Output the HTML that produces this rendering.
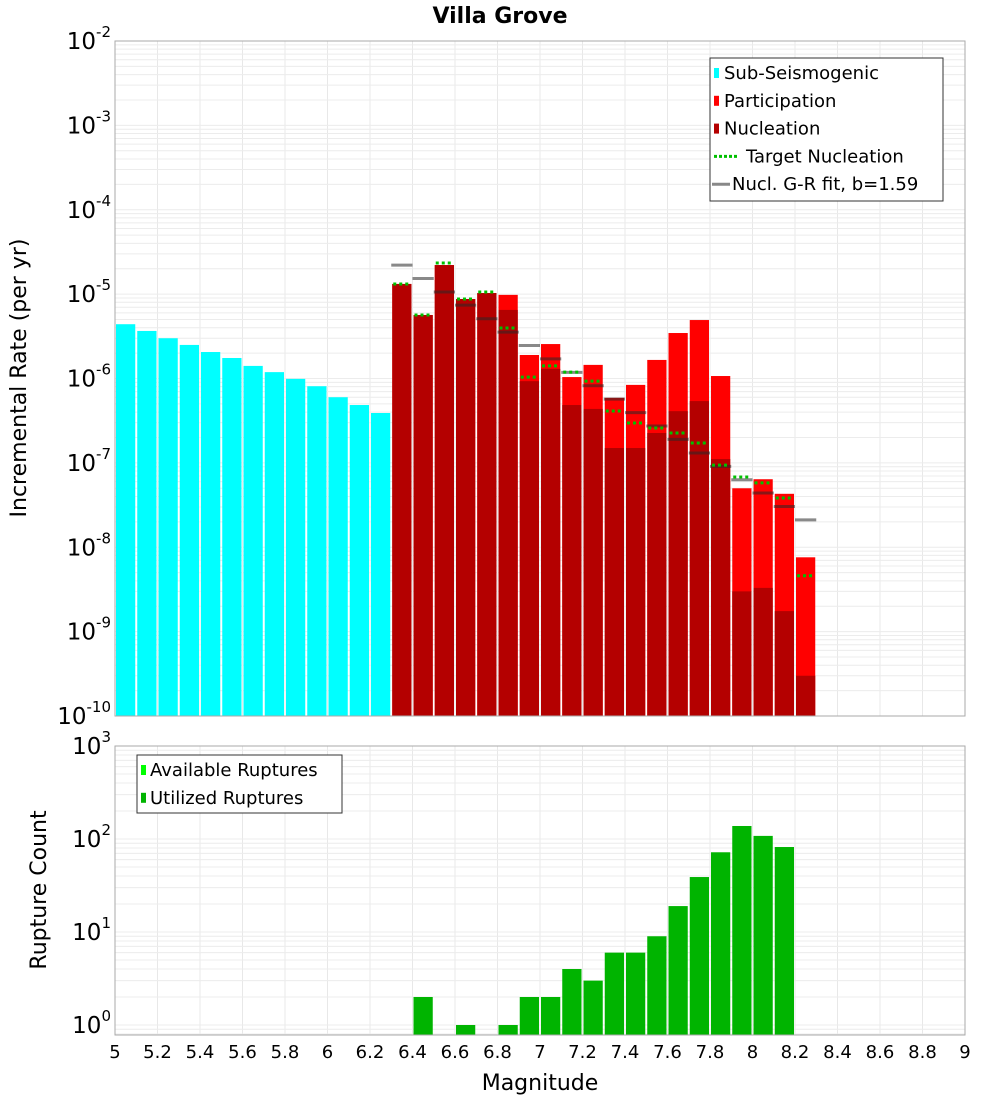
<!DOCTYPE html>
<html><head><meta charset="utf-8"><style>
body{margin:0;background:#fff;}
svg{display:block;font-family:"DejaVu Sans","Liberation Sans",sans-serif;}
</style></head><body>
<svg id="c" width="1000" height="1100" xmlns="http://www.w3.org/2000/svg">
<text x="500" y="23" text-anchor="middle" font-size="22" font-weight="bold">Villa Grove</text>
<text transform="translate(26,378) rotate(-90)" text-anchor="middle" font-size="22">Incremental Rate (per yr)</text>
<text transform="translate(46,890) rotate(-90)" text-anchor="middle" font-size="22">Rupture Count</text>
<text x="540" y="1090" text-anchor="middle" font-size="22">Magnitude</text>
<g id="grid"></g><g id="marks"></g><g id="axes"></g>
</svg>
<script>
const subMags=[5.05,5.15,5.25,5.35,5.45,5.55,5.65,5.75,5.85,5.95,6.05,6.15,6.25];
const subRates=[4.4e-6,3.66e-6,3.0e-6,2.5e-6,2.06e-6,1.75e-6,1.41e-6,1.19e-6,9.9e-7,8.1e-7,6.0e-7,4.85e-7,3.9e-7];
const supMags=[6.35,6.45,6.55,6.65,6.75,6.85,6.95,7.05,7.15,7.25,7.35,7.45,7.55,7.65,7.75,7.85,7.95,8.05,8.15,8.25];
const partRates=[1.32e-5,5.66e-6,2.21e-5,8.75e-6,1.03e-5,9.8e-6,1.9e-6,2.56e-6,1.04e-6,1.45e-6,5.9e-7,8.4e-7,1.66e-6,3.46e-6,4.93e-6,1.07e-6,5.0e-8,6.4e-8,4.3e-8,7.6e-9];
const nuclRates=[1.32e-5,5.66e-6,2.21e-5,8.75e-6,1.03e-5,6.5e-6,9.3e-7,1.3e-6,4.85e-7,4.36e-7,1.5e-7,1.5e-7,2.26e-7,4.1e-7,5.4e-7,1.11e-7,3.0e-9,3.3e-9,1.75e-9,3.0e-10];
const targetRates=[1.32e-5,5.66e-6,2.34e-5,8.75e-6,1.06e-5,3.97e-6,1.04e-6,1.41e-6,1.19e-6,9.3e-7,4.12e-7,2.97e-7,2.59e-7,2.26e-7,1.72e-7,9.4e-8,6.8e-8,5.8e-8,3.84e-8,4.6e-9];
const grRates=[2.21e-5,1.53e-5,1.06e-5,7.4e-6,5.1e-6,3.55e-6,2.46e-6,1.71e-6,1.18e-6,8.2e-7,5.7e-7,3.94e-7,2.74e-7,1.9e-7,1.31e-7,9.1e-8,6.3e-8,4.4e-8,3.04e-8,2.11e-8];
const countMags=[6.45,6.65,6.85,6.95,7.05,7.15,7.25,7.35,7.45,7.55,7.65,7.75,7.85,7.95,8.05,8.15];
const counts=[2,1,1,2,2,4,3,6,6,9,19,39,72,138,108,82];
const xTicks=["5","5.2","5.4","5.6","5.8","6","6.2","6.4","6.6","6.8","7","7.2","7.4","7.6","7.8","8","8.2","8.4","8.6","8.8","9"];
const topExps=[-10,-9,-8,-7,-6,-5,-4,-3,-2];
const botExps=[0,1,2,3];

const NS="http://www.w3.org/2000/svg";
const X0=115,X1=965,T0=41,T1=716,B0=746,B1=1035;
const xs=m=>X0+(m-5)*(X1-X0)/4;
const yT=v=>T1-(Math.log10(v)+10)*(T1-T0)/8;
const yB=v=>1025-Math.log10(v)*93;
const bw=(X1-X0)/40;
function mk(tag,attrs,parent){const e=document.createElementNS(NS,tag);for(const k in attrs)e.setAttribute(k,attrs[k]);parent.appendChild(e);return e;}
const grid=document.getElementById('grid'),marks=document.getElementById('marks'),axes=document.getElementById('axes');

// plot backgrounds and grids
[[T0,T1],[B0,B1]].forEach(([a,b],pi)=>{
  for(let i=0;i<xTicks.length;i++){const x=xs(5+i*0.2);const l=mk('line',{x1:x,x2:x,y1:a,y2:b,stroke:'#e8e8e8','stroke-width':1},grid);
  
  }
});
for(let e=-10;e<-2;e++)for(let k=1;k<10;k++){const y=yT(k*Math.pow(10,e));const l=mk('line',{x1:X0,x2:X1,y1:y,y2:y,stroke:'#ececec','stroke-width':1},grid);

}
for(let e=-1;e<3;e++)for(let k=1;k<10;k++){const v=k*Math.pow(10,e);const y=yB(v);if(y<B0||y>B1)continue;const l=mk('line',{x1:X0,x2:X1,y1:y,y2:y,stroke:'#ececec','stroke-width':1},grid);

}

// bars
subMags.forEach((m,i)=>{const y=yT(subRates[i]);const r=mk('rect',{x:xs(m)-bw/2+1,y:y,width:bw-2,height:T1-y,fill:'#00ffff'},marks);

});
supMags.forEach((m,i)=>{let y=yT(partRates[i]);let r=mk('rect',{x:xs(m)-bw/2+1,y:y,width:bw-2,height:T1-y,fill:'#ff0000'},marks);


y=yT(nuclRates[i]);r=mk('rect',{x:xs(m)-bw/2+1,y:y,width:bw-2,height:T1-y,fill:'#b40000'},marks);

});
supMags.forEach((m,i)=>{const y=yT(grRates[i]);const l=mk('line',{x1:xs(m)-bw/2,x2:xs(m)+bw/2,y1:y,y2:y,stroke:'rgba(40,40,40,0.55)','stroke-width':3},marks);


const y2=yT(targetRates[i]);const t=mk('line',{x1:xs(m)-bw/2+2,x2:xs(m)+bw/2-2,y1:y2,y2:y2,stroke:'#00c000','stroke-width':3,'stroke-dasharray':'3,3'},marks);

});
countMags.forEach((m,i)=>{const y=yB(counts[i]);const r=mk('rect',{x:xs(m)-bw/2+1,y:y,width:bw-2,height:B1-y,fill:'#00b400'},marks);

});

// frames
[[T0,T1,'top-plot-frame'],[B0,B1,'bottom-plot-frame']].forEach(([a,b,n])=>{const r=mk('rect',{x:X0,y:a,width:X1-X0,height:b-a,fill:'none',stroke:'#aaa','stroke-width':1},axes);

});
xTicks.forEach((t,i)=>{const tx=mk('text',{x:xs(5+i*0.2),y:1058,'text-anchor':'middle','font-size':18},axes);tx.textContent=t;

});
function expLabel(y,e,name){const tx=mk('text',{x:X0-4,y:y+8,'text-anchor':'end','font-size':23},axes);


const a=document.createElementNS(NS,'tspan');a.textContent='10';tx.appendChild(a);
const s=document.createElementNS(NS,'tspan');s.setAttribute('dy','-12');s.setAttribute('font-size','15');s.textContent=String(e);tx.appendChild(s);}
topExps.forEach(e=>expLabel(yT(Math.pow(10,e)),e,'top-y-tick-label'));
botExps.forEach(e=>expLabel(yB(Math.pow(10,e)),e,'bottom-y-tick-label'));

// legends
function legend(x,y,w,h,items,name){const g=mk('g',{},axes);


mk('rect',{x:x,y:y,width:w,height:h,fill:'#fff',stroke:'#333','stroke-width':1},g);
items.forEach((it,i)=>{const cy=y+15+i*27.8;
if(it.t==='sq'){mk('rect',{x:x+4,y:cy-5,width:5,height:10,fill:it.c},g);}
else if(it.t==='dot'){mk('line',{x1:x+4,x2:x+28,y1:cy,y2:cy,stroke:it.c,'stroke-width':3,'stroke-dasharray':'3,2'},g);}
else{mk('line',{x1:x+2,x2:x+20,y1:cy,y2:cy,stroke:it.c,'stroke-width':3},g);}
const tx=mk('text',{x:x+it.off,y:cy+6,'font-size':18},g);tx.textContent=it.l;

});}
legend(710,58,233,143,[{t:'sq',c:'#00ffff',l:'Sub-Seismogenic',off:14},{t:'sq',c:'#ff0000',l:'Participation',off:14},{t:'sq',c:'#b40000',l:'Nucleation',off:14},{t:'dot',c:'#00c000',l:'Target Nucleation',off:36},{t:'ln',c:'#888',l:'Nucl. G-R fit, b=1.59',off:22}],'top-legend');
legend(137,755,205,58,[{t:'sq',c:'#00ff00',l:'Available Ruptures',off:13},{t:'sq',c:'#00b400',l:'Utilized Ruptures',off:13}],'bottom-legend');
</script>
</body></html>
